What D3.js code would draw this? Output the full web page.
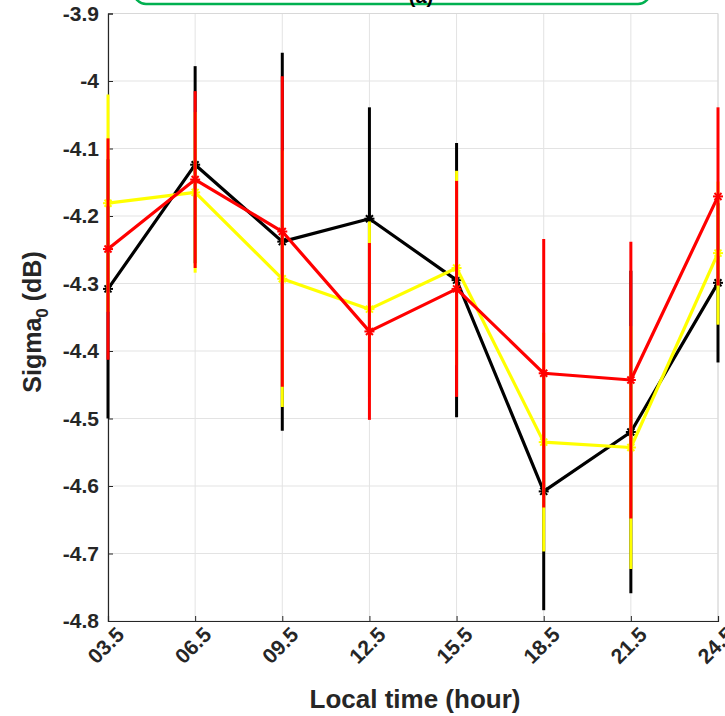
<!DOCTYPE html>
<html>
<head>
<meta charset="utf-8">
<script src="https://cdn.jsdelivr.net/npm/d3@7"></script>
<style>
  body { margin: 0; background: #fff; }
  svg text { font-family: "Liberation Sans", Arial, sans-serif; font-weight: bold; }
</style>
</head>
<body>
<div id="chart"></div>
<script>
// local time bins (hour)
const hours = [3.5, 6.5, 9.5, 12.5, 15.5, 18.5, 21.5, 24.5];
const hourLabels = ["03.5", "06.5", "09.5", "12.5", "15.5", "18.5", "21.5", "24.5"];
const yTicks = [-3.9, -4, -4.1, -4.2, -4.3, -4.4, -4.5, -4.6, -4.7, -4.8];

// sigma0 means and error bar half-widths
const blackVals = [-4.308, -4.124, -4.238, -4.204, -4.295, -4.608, -4.520, -4.299];
const blackErr  = [0.192, 0.146, 0.280, 0.165, 0.203, 0.176, 0.239, 0.118];
const yellowVals = [-4.181, -4.165, -4.293, -4.338, -4.277, -4.535, -4.543, -4.255];
const yellowErr  = [0.161, 0.119, 0.190, 0.130, 0.144, 0.162, 0.180, 0.106];
const redVals = [-4.249, -4.146, -4.223, -4.371, -4.308, -4.433, -4.443, -4.171];
const redErr  = [0.164, 0.131, 0.230, 0.131, 0.160, 0.199, 0.205, 0.132];

const W = 725, H = 716;
const pLeft = 108, pRight = 718, pTop = 13.5, pBottom = 621;

const svg = d3.select("#chart").append("svg")
  .attr("width", W).attr("height", H);

const x = d3.scaleLinear().domain([3.5, 24.5]).range([pLeft, pRight]);
const y = d3.scaleLinear().domain([-4.8, -3.9]).range([pBottom, pTop]);

// grid
svg.append("g").selectAll("line").data(hours).join("line")
  .attr("x1", d => x(d)).attr("x2", d => x(d))
  .attr("y1", pTop).attr("y2", pBottom)
  .attr("stroke", "#e3e3e3").attr("stroke-width", 1);
svg.append("g").selectAll("line").data(yTicks).join("line")
  .attr("x1", pLeft).attr("x2", pRight)
  .attr("y1", d => y(d)).attr("y2", d => y(d))
  .attr("stroke", "#e3e3e3").attr("stroke-width", 1);

// box top/right light
svg.append("line").attr("x1", pLeft).attr("x2", pRight).attr("y1", pTop).attr("y2", pTop)
  .attr("stroke", "#d8d8d8");
svg.append("line").attr("x1", pRight).attr("x2", pRight).attr("y1", pTop).attr("y2", pBottom)
  .attr("stroke", "#d8d8d8");

// axes
const yAxis = d3.axisLeft(y).tickValues(yTicks).tickSize(-5).tickPadding(9)
  .tickFormat(d => String(+d.toFixed(1)));
const gy = svg.append("g").attr("transform", `translate(${pLeft},0)`).call(yAxis);
gy.select(".domain").attr("stroke", "#262626").attr("stroke-width", 1.2);
gy.selectAll(".tick line").attr("stroke", "#262626");
gy.selectAll("text").attr("font-size", 21).attr("fill", "#262626")
  .attr("font-family", "Liberation Sans, Arial, sans-serif").attr("font-weight", "bold");

const xAxis = d3.axisBottom(x).tickValues(hours).tickSize(-5)
  .tickFormat((d, i) => hourLabels[i]);
const gx = svg.append("g").attr("transform", `translate(0,${pBottom})`).call(xAxis);
gx.select(".domain").attr("stroke", "#262626").attr("stroke-width", 1.2);
gx.selectAll(".tick line").attr("stroke", "#262626");
gx.selectAll("text")
  .attr("font-size", 21).attr("fill", "#262626")
  .attr("font-family", "Liberation Sans, Arial, sans-serif").attr("font-weight", "bold")
  .attr("text-anchor", "end")
  .attr("dy", null).attr("y", 0)
  .attr("transform", "translate(17,15) rotate(-45)");

// series
const series = [
  {vals: blackVals, err: blackErr, color: "#000000"},
  {vals: yellowVals, err: yellowErr, color: "#ffff00"},
  {vals: redVals, err: redErr, color: "#ff0000"}
];

const line = d3.line().x(d => x(d.h)).y(d => y(d.v));

series.forEach(s => {
  const pts = hours.map((h, i) => ({h: h, v: s.vals[i], e: s.err[i]}));
  const g = svg.append("g");
  g.selectAll("line").data(pts).join("line")
    .attr("x1", d => x(d.h)).attr("x2", d => x(d.h))
    .attr("y1", d => y(d.v + d.e)).attr("y2", d => y(d.v - d.e))
    .attr("stroke", s.color).attr("stroke-width", 3);
  g.append("path").datum(pts)
    .attr("d", line).attr("fill", "none")
    .attr("stroke", s.color).attr("stroke-width", 3.2)
    .attr("stroke-linejoin", "round");
  // asterisk markers
  const m = 5;
  const mk = g.selectAll("g").data(pts).join("g")
    .attr("transform", d => `translate(${x(d.h)},${y(d.v)})`);
  [[-m, 0, m, 0], [0, -m, 0, m], [-m * 0.7, -m * 0.7, m * 0.7, m * 0.7], [-m * 0.7, m * 0.7, m * 0.7, -m * 0.7]]
    .forEach(c => {
      mk.append("line").attr("x1", c[0]).attr("y1", c[1]).attr("x2", c[2]).attr("y2", c[3])
        .attr("stroke", s.color).attr("stroke-width", 2);
    });
});

// axis titles
svg.append("text")
  .attr("x", (pLeft + pRight) / 2 + 2).attr("y", 708)
  .attr("text-anchor", "middle").attr("font-size", 26).attr("fill", "#262626")
  .text("Local time (hour)");

const yt = svg.append("text")
  .attr("transform", `translate(41,322) rotate(-90)`)
  .attr("text-anchor", "middle").attr("font-size", 25).attr("fill", "#262626");
yt.append("tspan").text("Sigma");
yt.append("tspan").attr("font-size", 17).attr("dy", 7).text("0");
yt.append("tspan").attr("dy", -7).text(" (dB)");

// panel label box at top (mostly cut off)
svg.append("rect")
  .attr("x", 134).attr("y", -40).attr("width", 516).attr("height", 44)
  .attr("rx", 12).attr("ry", 12)
  .attr("fill", "none").attr("stroke", "#00b050").attr("stroke-width", 2.5);
svg.append("text")
  .attr("x", 421).attr("y", 3).attr("text-anchor", "middle")
  .attr("font-size", 20).attr("fill", "#000").text("(a)");
</script>
</body>
</html>
